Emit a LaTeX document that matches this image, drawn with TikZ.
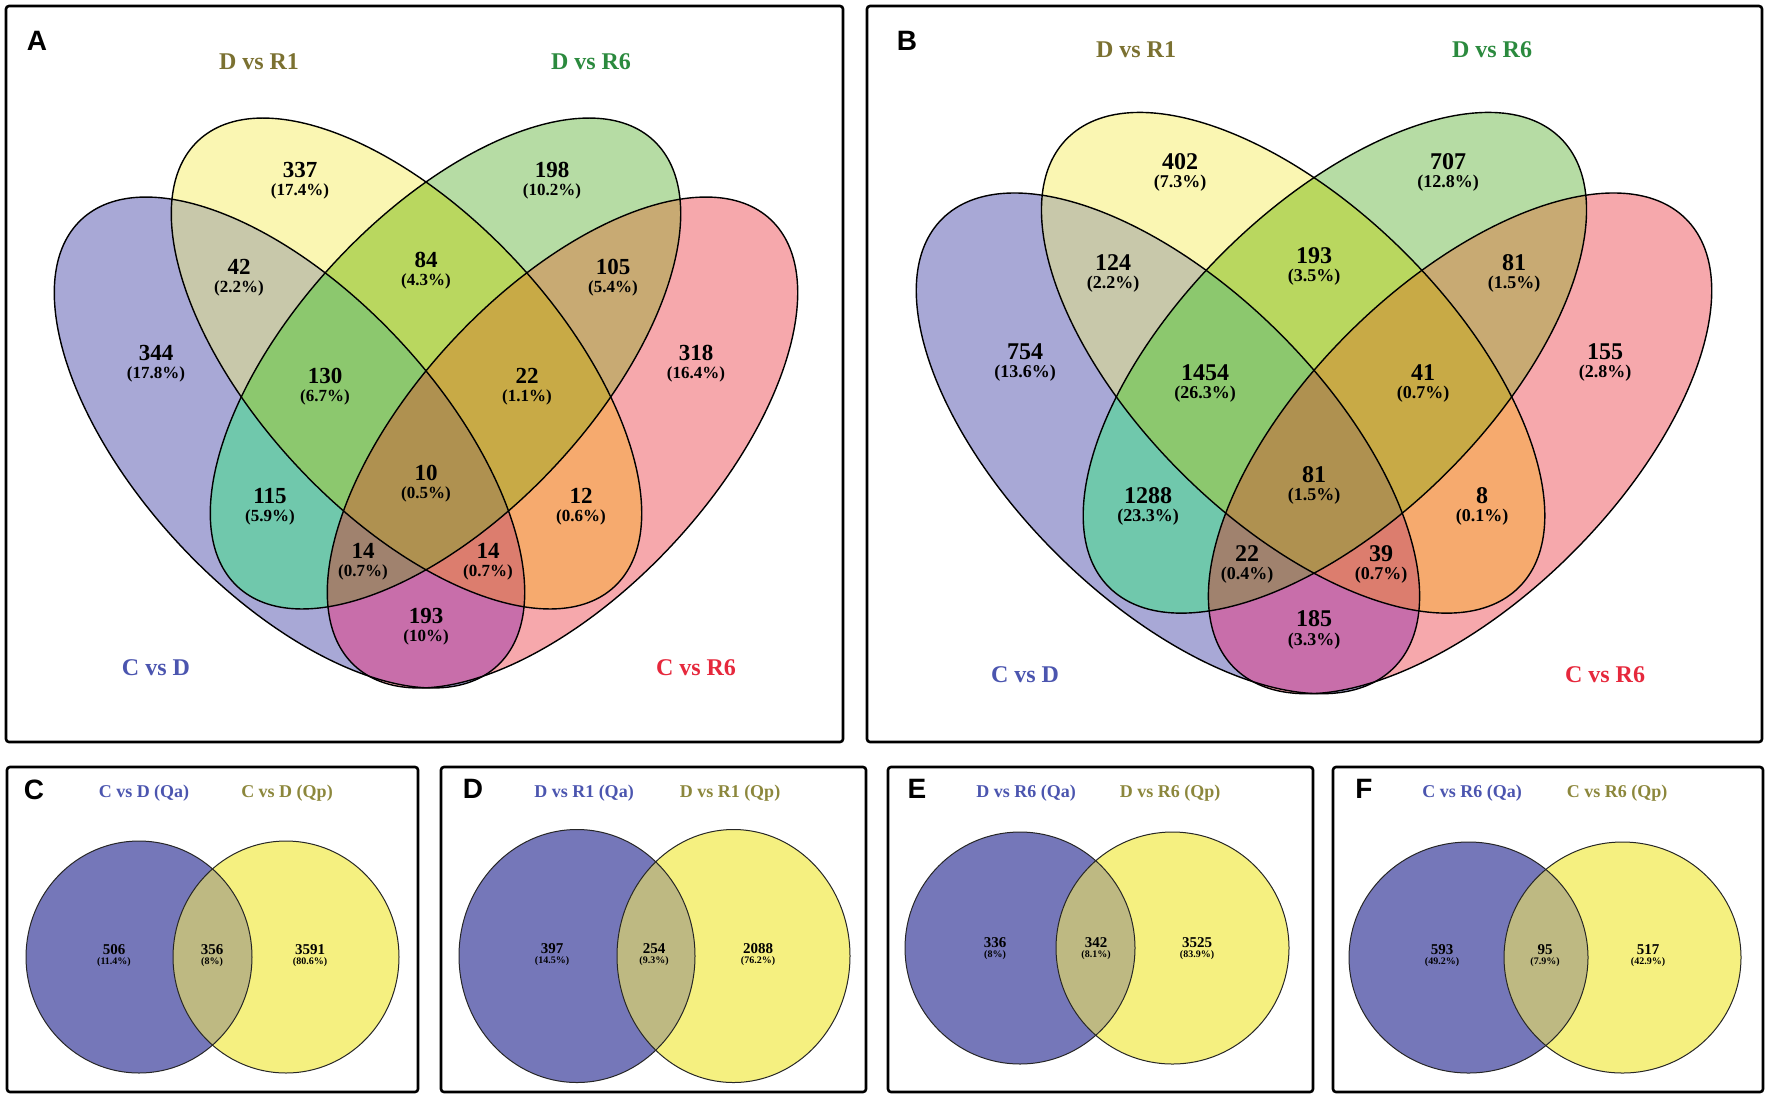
\documentclass[tikz,border=0pt]{standalone}
\usepackage{fontspec}
\setmainfont{Liberation Serif}
\setsansfont{Liberation Sans}
\usetikzlibrary{positioning}
% region colours
\definecolor{onlyCD}{HTML}{A8A8D6}
\definecolor{onlyRa}{HTML}{FAF6B2}
\definecolor{onlyRb}{HTML}{B6DCA4}
\definecolor{onlyCR}{HTML}{F6A8AC}
\definecolor{cdRa}{HTML}{C8C8AA}
\definecolor{cdRb}{HTML}{70C8AC}
\definecolor{cdCR}{HTML}{C86EAA}
\definecolor{raRb}{HTML}{B9D75F}
\definecolor{raCR}{HTML}{F6AA6E}
\definecolor{rbCR}{HTML}{C8AA73}
\definecolor{cdRaRb}{HTML}{8CC86E}
\definecolor{cdRaCR}{HTML}{DC7D6E}
\definecolor{cdRbCR}{HTML}{A0826E}
\definecolor{raRbCR}{HTML}{C8AA46}
\definecolor{allFour}{HTML}{AF9150}
\definecolor{qaFill}{HTML}{7577B9}
\definecolor{qpFill}{HTML}{F5F080}
\definecolor{bothFill}{HTML}{BEB982}
% text colours
\definecolor{txtBlue}{HTML}{4B55AF}
\definecolor{txtOlive}{HTML}{7B7131}
\definecolor{txtGreen}{HTML}{2B8A3E}
\definecolor{txtRed}{HTML}{E6283C}
\definecolor{txtQp}{HTML}{8C873C}
\tikzstyle{panel} = [draw=black, line width=2.6pt, rounded corners=3pt]
\tikzstyle{setline} = [draw=black, line width=1.4pt]
\tikzstyle{pairline} = [draw=black!85, line width=1pt]
\tikzstyle{letter} = [inner sep=0pt, font=\sffamily\bfseries\fontsize{28}{28}\selectfont]
\tikzstyle{setname} = [inner sep=0pt, font=\bfseries\fontsize{24}{24}\selectfont]
\tikzstyle{vcount} = [inner sep=0pt, font=\bfseries\fontsize{23}{23}\selectfont]
\tikzstyle{vshare} = [inner sep=0pt, font=\bfseries\fontsize{17}{17}\selectfont]
\tikzstyle{wcount} = [inner sep=0pt, font=\bfseries\fontsize{24}{24}\selectfont]
\tikzstyle{wshare} = [inner sep=0pt, font=\bfseries\fontsize{18}{18}\selectfont]
\tikzstyle{pairname} = [inner sep=0pt, font=\bfseries\fontsize{18}{18}\selectfont]
\tikzstyle{pcount} = [inner sep=0pt, font=\bfseries\fontsize{15}{15}\selectfont]
\tikzstyle{pshare} = [inner sep=0pt, font=\bfseries\fontsize{10}{10}\selectfont]
% the four sets
\newcommand{\ellCD}{[rotate around={-47:(-136.5,42.5)}] (-136.5,42.5) ellipse [x radius=305pt, y radius=150pt]}
\newcommand{\ellRa}{[rotate around={-47:(-19.5,-36.5)}] (-19.5,-36.5) ellipse [x radius=305pt, y radius=150pt]}
\newcommand{\ellRb}{[rotate around={47:(19.5,-36.5)}] (19.5,-36.5) ellipse [x radius=305pt, y radius=150pt]}
\newcommand{\ellCR}{[rotate around={47:(136.5,42.5)}] (136.5,42.5) ellipse [x radius=305pt, y radius=150pt]}
\newcommand{\quadvenn}{%
  \fill[onlyCD]\ellCD; \fill[onlyRa]\ellRa; \fill[onlyRb]\ellRb; \fill[onlyCR]\ellCR;
  \begin{scope}\clip\ellCD; \fill[cdRa]\ellRa; \end{scope}
  \begin{scope}\clip\ellCD; \fill[cdRb]\ellRb; \end{scope}
  \begin{scope}\clip\ellCD; \fill[cdCR]\ellCR; \end{scope}
  \begin{scope}\clip\ellRa; \fill[raRb]\ellRb; \end{scope}
  \begin{scope}\clip\ellRa; \fill[raCR]\ellCR; \end{scope}
  \begin{scope}\clip\ellRb; \fill[rbCR]\ellCR; \end{scope}
  \begin{scope}\clip\ellCD; \clip\ellRa; \fill[cdRaRb]\ellRb; \end{scope}
  \begin{scope}\clip\ellCD; \clip\ellRa; \fill[cdRaCR]\ellCR; \end{scope}
  \begin{scope}\clip\ellCD; \clip\ellRb; \fill[cdRbCR]\ellCR; \end{scope}
  \begin{scope}\clip\ellRa; \clip\ellRb; \fill[raRbCR]\ellCR; \end{scope}
  \begin{scope}\clip\ellCD; \clip\ellRa; \clip\ellRb; \fill[allFour]\ellCR; \end{scope}
  \draw[setline]\ellCD; \draw[setline]\ellRa; \draw[setline]\ellRb; \draw[setline]\ellCR;}
% two-set diagram: left x, left rx, right x, right rx, y, ry
\newcommand{\pairvenn}[6]{%
  \fill[qaFill] (#1,#5) ellipse [x radius=#2pt, y radius=#6pt];
  \fill[qpFill] (#3,#5) ellipse [x radius=#4pt, y radius=#6pt];
  \begin{scope}
    \clip (#1,#5) ellipse [x radius=#2pt, y radius=#6pt];
    \fill[bothFill] (#3,#5) ellipse [x radius=#4pt, y radius=#6pt];
  \end{scope}
  \draw[pairline] (#1,#5) ellipse [x radius=#2pt, y radius=#6pt];
  \draw[pairline] (#3,#5) ellipse [x radius=#4pt, y radius=#6pt];}
\newcommand{\vennlabel}[4]{\node[vcount] (#1) at (#2) {#3};
  \node[vshare, below=5.5pt of #1] (#1p) {(#4\%)};}
\newcommand{\wlabel}[4]{\node[wcount] (#1) at (#2) {#3};
  \node[wshare, below=5pt of #1] (#1p) {(#4\%)};}
\newcommand{\plabel}[4]{\node[pcount] (#1) at (#2) {#3};
  \node[pshare, below=2.4pt of #1] (#1p) {(#4\%)};}

\begin{document}
\begin{tikzpicture}[x=1pt,y=-1pt]
    \useasboundingbox (0,0) rectangle (1772,1104);
    % Panels
    \draw[panel] (6,6) rectangle (843,742);
    \draw[panel] (867,6) rectangle (1762,742);
    \draw[panel] (7,767) rectangle (418,1092);
    \draw[panel] (441,767) rectangle (866,1092);
    \draw[panel] (888,767) rectangle (1313,1092);
    \draw[panel] (1333,767) rectangle (1763,1092);

    % Four-set diagrams
    \begin{scope}[shift={(426,400)}]
        \quadvenn
    \end{scope}
    \begin{scope}[shift={(1314,400)}, xscale=1.07, yscale=1.02]
        \quadvenn
    \end{scope}

    % Two-set diagrams
    \pairvenn{139}{113}{286}{113}{957}{116}
    \pairvenn{577}{118}{733.5}{116.5}{956}{126.5}
    \pairvenn{1020}{115}{1172.5}{116.5}{948}{116}
    \pairvenn{1468.5}{119.5}{1622.5}{118.5}{957.5}{115.5}

    % Panel letters
    \node[letter] (lblA) at (37,41) {A};
    \node[letter] (lblB) at (907,41) {B};
    \node[letter] (lblC) at (34,790) {C};
    \node[letter] (lblD) at (473,789) {D};
    \node[letter] (lblE) at (917,789) {E};
    \node[letter] (lblF) at (1364,789) {F};

    % Set names A
    \node[setname, text=txtOlive] (aRa) at (259,62) {D vs R1};
    \node[setname, text=txtGreen] (aRb) at (591,62) {D vs R6};
    \node[setname, text=txtBlue] (aCD) at (156,668) {C vs D};
    \node[setname, text=txtRed] (aCR) at (696,668) {C vs R6};
    % Set names B
    \node[setname, text=txtOlive] (bRa) at (1136,50) {D vs R1};
    \node[setname, text=txtGreen] (bRb) at (1492,50) {D vs R6};
    \node[setname, text=txtBlue] (bCD) at (1025,675) {C vs D};
    \node[setname, text=txtRed] (bCR) at (1605,675) {C vs R6};

    % Counts A
    \vennlabel{aY}{300,170}{337}{17.4}
    \vennlabel{aG}{552,170}{198}{10.2}
    \vennlabel{aBY}{239,267}{42}{2.2}
    \vennlabel{aYG}{426,260}{84}{4.3}
    \vennlabel{aGR}{613,267}{105}{5.4}
    \vennlabel{aB}{156,353}{344}{17.8}
    \vennlabel{aBYG}{325,376}{130}{6.7}
    \vennlabel{aYGR}{527,376}{22}{1.1}
    \vennlabel{aR}{696,353}{318}{16.4}
    \vennlabel{aAll}{426,473}{10}{0.5}
    \vennlabel{aBG}{270,496}{115}{5.9}
    \vennlabel{aYR}{581,496}{12}{0.6}
    \vennlabel{aBGR}{363,551}{14}{0.7}
    \vennlabel{aBYR}{488,551}{14}{0.7}
    \vennlabel{aBR}{426,616}{193}{10}

    % Counts B
    \wlabel{bY}{1180,162}{402}{7.3}
    \wlabel{bG}{1448,162}{707}{12.8}
    \wlabel{bBY}{1113,263}{124}{2.2}
    \wlabel{bYG}{1314,256}{193}{3.5}
    \wlabel{bGR}{1514,263}{81}{1.5}
    \wlabel{bB}{1025,352}{754}{13.6}
    \wlabel{bBYG}{1205,373}{1454}{26.3}
    \wlabel{bYGR}{1423,373}{41}{0.7}
    \wlabel{bR}{1605,352}{155}{2.8}
    \wlabel{bAll}{1314,475}{81}{1.5}
    \wlabel{bBG}{1148,496}{1288}{23.3}
    \wlabel{bYR}{1482,496}{8}{0.1}
    \wlabel{bBGR}{1247,554}{22}{0.4}
    \wlabel{bBYR}{1381,554}{39}{0.7}
    \wlabel{bBR}{1314,619}{185}{3.3}

    % Two-set names
    \node[pairname, text=txtBlue] (cQa) at (144,793) {C vs D (Qa)};
    \node[pairname, text=txtQp] (cQp) at (287,793) {C vs D (Qp)};
    \node[pairname, text=txtBlue] (dQa) at (584,793) {D vs R1 (Qa)};
    \node[pairname, text=txtQp] (dQp) at (730,793) {D vs R1 (Qp)};
    \node[pairname, text=txtBlue] (eQa) at (1026,793) {D vs R6 (Qa)};
    \node[pairname, text=txtQp] (eQp) at (1170,793) {D vs R6 (Qp)};
    \node[pairname, text=txtBlue] (fQa) at (1472,793) {C vs R6 (Qa)};
    \node[pairname, text=txtQp] (fQp) at (1617,793) {C vs R6 (Qp)};

    % Two-set counts
    \plabel{cA}{114,950}{506}{11.4}
    \plabel{cAB}{212,950}{356}{8}
    \plabel{cB}{310,950}{3591}{80.6}
    \plabel{dA}{552,949}{397}{14.5}
    \plabel{dAB}{654,949}{254}{9.3}
    \plabel{dB}{758,949}{2088}{76.2}
    \plabel{eA}{995,943}{336}{8}
    \plabel{eAB}{1096,943}{342}{8.1}
    \plabel{eB}{1197,943}{3525}{83.9}
    \plabel{fA}{1442,950}{593}{49.2}
    \plabel{fAB}{1545,950}{95}{7.9}
    \plabel{fB}{1648,950}{517}{42.9}
\end{tikzpicture}
\end{document}
